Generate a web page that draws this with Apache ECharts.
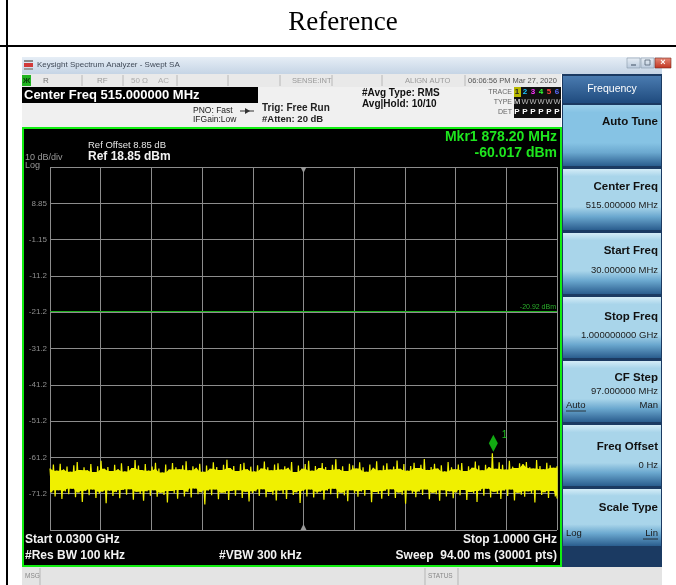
<!DOCTYPE html>
<html>
<head>
<meta charset="utf-8">
<script src="https://cdn.jsdelivr.net/npm/echarts@6/dist/echarts.min.js"></script>
<style>
html,body{margin:0;padding:0;background:#fff;}
#chart{width:676px;height:585px;}
</style>
</head>
<body>
<div id="chart"></div>
<script>
// ---------- data ----------
const startFreqMHz = 30;
const stopFreqMHz = 1000;
const refLevel = 18.85;
const dbPerDiv = 10;
const yTickLabels = ["8.85", "-1.15", "-11.2", "-21.2", "-31.2", "-41.2", "-51.2", "-61.2", "-71.2"];
const displayLine = -20.92;
const marker = [878.2, -60.017];
// upper envelope of the noise trace (dBm), read left to right
const noiseHigh = [
-64.2,-63.1,-64.8,-62.9,-64.5,-63.7,-65.1,-63.3,-62.4,-64.6,
-63.9,-64.7,-63.0,-65.2,-63.6,-62.1,-64.3,-63.8,-64.9,-63.2,
-64.4,-62.8,-65.0,-63.5,-64.1,-61.9,-63.4,-64.6,-63.0,-64.8,
-63.7,-62.6,-64.2,-65.3,-63.1,-64.5,-62.7,-63.9,-64.4,-63.3,
-62.2,-64.7,-63.6,-64.0,-62.9,-65.1,-63.4,-64.3,-62.5,-63.8,
-64.6,-63.2,-61.8,-64.1,-63.5,-64.9,-63.0,-62.6,-64.4,-63.7,
-65.0,-63.3,-64.2,-62.3,-63.9,-64.7,-63.1,-62.8,-64.5,-63.6,
-64.0,-62.4,-65.2,-63.4,-64.3,-63.0,-62.1,-64.8,-63.5,-64.1,
-62.7,-63.8,-64.6,-63.2,-61.7,-64.4,-63.6,-64.9,-62.9,-63.3,
-64.2,-62.5,-63.9,-65.1,-63.1,-64.0,-62.2,-64.7,-63.4,-62.8,
-64.5,-63.7,-62.0,-64.3,-63.0,-64.8,-63.5,-62.6,-64.1,-63.2,
-61.6,-64.6,-63.8,-62.9,-64.2,-63.3,-65.0,-62.4,-63.9,-64.4,
-63.1,-62.7,-64.9,-63.6,-64.0,-62.3,-63.4,-64.7,-63.2,-63.8,
-60.0,-64.3,-62.5,-63.2,-64.5,-62.1,-63.7,-64.1,-62.8,-63.0,
-62.4,-63.9,-64.2,-61.9,-63.5,-64.4,-62.6,-63.3,-64.0,-63.6
];
// lower envelope of the noise trace (dBm), read left to right
const noiseLow = [
-70.8,-71.9,-70.2,-72.6,-70.5,-71.3,-69.8,-72.1,-70.9,-73.4,
-70.4,-71.6,-70.0,-72.3,-71.1,-70.6,-73.8,-70.3,-71.8,-70.7,
-72.4,-70.1,-71.4,-69.9,-72.8,-70.6,-71.2,-73.1,-70.5,-71.7,
-70.2,-72.0,-70.9,-71.5,-73.6,-70.4,-71.0,-72.5,-70.1,-71.9,
-70.7,-72.2,-69.7,-71.3,-70.8,-74.1,-70.3,-71.6,-70.0,-72.7,
-70.9,-71.1,-72.9,-70.4,-71.7,-70.2,-72.3,-70.6,-73.3,-71.0,
-70.5,-71.8,-69.9,-72.1,-70.7,-71.4,-73.0,-70.3,-71.2,-72.6,
-70.1,-71.5,-70.8,-73.7,-70.4,-71.9,-70.0,-72.2,-71.1,-70.6,
-72.8,-70.3,-71.3,-69.8,-72.4,-70.9,-71.6,-73.2,-70.2,-71.0,
-72.0,-70.5,-71.7,-70.1,-73.5,-70.7,-71.2,-72.5,-70.4,-71.8,
-69.9,-72.3,-70.8,-71.4,-73.9,-70.3,-71.1,-72.1,-70.6,-71.5,
-70.0,-72.7,-70.9,-71.3,-73.1,-70.2,-71.9,-70.5,-72.4,-70.8,
-71.6,-70.1,-72.9,-70.7,-71.0,-73.4,-70.4,-71.7,-69.8,-72.2,
-70.6,-71.2,-72.6,-70.3,-71.8,-70.0,-73.0,-70.9,-71.4,-72.0,
-70.5,-71.1,-73.6,-70.2,-71.5,-70.8,-72.3,-70.4,-71.9,-72.5
];

// ---------- build trace table from the envelopes ----------
const n = noiseHigh.length;
const step = (stopFreqMHz - startFreqMHz) / (n - 1);
const freqs = noiseHigh.map(function (_, i) { return startFreqMHz + i * step; });
const trace = [];
for (let i = 0; i < n; i++) {
  trace.push([freqs[i], noiseHigh[i]]);
  trace.push([Math.min(stopFreqMHz, freqs[i] + step / 2), noiseLow[i]]);
}
// dense core of the trace: between the inner neighbours of each envelope
const coreTop = noiseHigh.map(function (v, i) {
  return Math.min(v, noiseHigh[Math.max(0, i - 1)], noiseHigh[Math.min(n - 1, i + 1)]);
});
const coreBottom = noiseLow.map(function (v, i) {
  return Math.max(v, noiseLow[Math.max(0, i - 1)], noiseLow[Math.min(n - 1, i + 1)]);
});

// ---------- chrome helpers ----------
const FONT = '"Liberation Sans", Arial, Helvetica, sans-serif';
const g = [];
function rect(x, y, w, h, fill, extra) {
  g.push(Object.assign({type: 'rect', silent: true, z: -5, shape: {x: x, y: y, width: w, height: h}, style: {fill: fill}}, extra || {}));
}
function seg(x1, y1, x2, y2, stroke, lw, z) {
  g.push({type: 'line', silent: true, z: z == null ? -4 : z, shape: {x1: x1, y1: y1, x2: x2, y2: y2}, style: {stroke: stroke, lineWidth: lw || 1}});
}
function txt(x, y, t, o) {
  o = o || {};
  const al = o.a || 'left';
  g.push({type: 'text', silent: true, z: o.z == null ? 50 : o.z, x: x, y: y,
    style: {text: t, fill: o.c || '#000', font: (o.b ? 'bold ' : '') + (o.s || 10) + 'px ' + (o.f || FONT),
      align: al, textAlign: al, verticalAlign: 'middle', textVerticalAlign: 'middle'}});
}
function grad(stops) {
  return {type: 'linear', x: 0, y: 0, x2: 0, y2: 1, colorStops: stops.map(function (s) { return {offset: s[0], color: s[1]}; })};
}

// document table frame + caption
seg(0, 46, 676, 46, '#000', 2, 10);
seg(7, 0, 7, 585, '#000', 2, 10);
txt(343, 23, 'Reference', {s: 27, f: '"Liberation Serif", "Times New Roman", serif', a: 'center'});

// window title bar
rect(22, 57, 640, 17, grad([[0, '#e6eef6'], [1, '#c5d4e5']]));
rect(24, 60, 9, 2, '#8a8a8a', {z: -3});
rect(24, 63, 9, 4, '#d23a3a', {z: -3});
rect(24, 68, 9, 2, '#9a9a9a', {z: -3});
txt(37, 65, 'Keysight Spectrum Analyzer - Swept SA', {s: 8, c: '#404a58'});
rect(627, 58, 13, 10, '#dde6f0', {style: {fill: grad([[0, '#e8eef5'], [1, '#b9c9dc']]), stroke: '#8899aa', lineWidth: 0.6}});
rect(641, 58, 13, 10, '#dde6f0', {style: {fill: grad([[0, '#e8eef5'], [1, '#b9c9dc']]), stroke: '#8899aa', lineWidth: 0.6}});
rect(655, 58, 16, 10, '#c8402c', {style: {fill: grad([[0, '#e58a78'], [1, '#c0321f']]), stroke: '#7a2a20', lineWidth: 0.6}});
seg(631, 65, 636, 65, '#556677', 1.2, -3);
rect(645, 60, 5, 5, 'none', {z: -3, style: {fill: 'none', stroke: '#556677', lineWidth: 0.8}});
txt(663, 63, '×', {s: 9, b: true, c: '#fff', a: 'center'});

// status row
rect(22, 74, 539, 13, '#e9e9e9');
[82, 123, 177, 228, 280, 332, 382, 465].forEach(function (x) { seg(x, 75, x, 86, '#b8b8b8', 1, -3); });
rect(22, 75, 9, 11, '#22b422', {z: -3});
txt(26.5, 81, 'Ж', {s: 8, b: true, c: '#0a3a0a', a: 'center'});
txt(43, 81, 'R', {s: 8, c: '#777'});
txt(97, 81, 'RF', {s: 8, c: '#999'});
txt(131, 81, '50 Ω', {s: 8, c: '#aaa'});
txt(158, 81, 'AC', {s: 8, c: '#aaa'});
txt(292, 81, 'SENSE:INT', {s: 7.5, c: '#999'});
txt(405, 81, 'ALIGN AUTO', {s: 7.5, c: '#999'});
txt(468, 81, '06:06:56 PM Mar 27, 2020', {s: 7.5, c: '#555'});

// info area
rect(22, 87, 539, 40, '#f0f0f0');
rect(22, 87, 236, 16, '#000', {z: -3});
txt(24, 95.5, 'Center Freq 515.000000 MHz', {s: 13, b: true, c: '#fff'});
txt(193, 111, 'PNO: Fast', {s: 8.5, c: '#222'});
seg(240, 111, 254, 111, '#333', 1, 40);
g.push({type: 'polygon', silent: true, z: 40, shape: {points: [[245, 108], [250, 111], [245, 114]]}, style: {fill: '#333'}});
txt(193, 120, 'IFGain:Low', {s: 8.5, c: '#222'});
txt(262, 108, 'Trig: Free Run', {s: 10, b: true, c: '#222'});
txt(262, 119, '#Atten: 20 dB', {s: 9.5, b: true, c: '#222'});
txt(362, 93, '#Avg Type: RMS', {s: 10, b: true, c: '#111'});
txt(362, 104, 'Avg|Hold: 10/10', {s: 10, b: true, c: '#111'});
txt(512, 92, 'TRACE', {s: 7, c: '#666', a: 'right'});
txt(512, 102, 'TYPE', {s: 7, c: '#666', a: 'right'});
txt(512, 112, 'DET', {s: 7, c: '#666', a: 'right'});
rect(514, 87, 47, 31, '#101010', {z: -3});
rect(514, 87, 7, 10, '#b8b800', {z: -2});
const traceNumCols = ['#222', '#19c8ff', '#ff33ff', '#33ff33', '#ff4040', '#5a6bff'];
[517, 525, 533, 541, 549, 557].forEach(function (x, i) {
  txt(x, 92, String(i + 1), {s: 8, b: true, c: traceNumCols[i], a: 'center'});
  txt(x, 112, 'P', {s: 8, b: true, c: '#fff', a: 'center'});
  txt(x, 102, i === 0 ? 'M' : 'W', {s: 7.5, c: i === 0 ? '#fff' : '#bbb', a: 'center'});
});

// softkey panel
rect(562, 74, 100, 493, '#1b3a62');
rect(563, 76, 98, 27, grad([[0, '#4a7bb0'], [1, '#1f4b7e']]));
txt(612, 89, 'Frequency', {s: 10.5, c: '#fff', a: 'center'});
// [title, value, title y, value y]
const keys = [
  ['Auto Tune', null, 122, 0], ['Center Freq', '515.000000 MHz', 187, 205], ['Start Freq', '30.000000 MHz', 251, 270],
  ['Stop Freq', '1.000000000 GHz', 317, 335], ['CF Step', '97.000000 MHz', 378, 391], ['Freq Offset', '0 Hz', 447, 465], ['Scale Type', null, 508, 0]
];
keys.forEach(function (k, i) {
  const y0 = 105 + i * 64;
  const top = i === 0 ? '#9ed2ec' : '#d4ecf7';
  const mid = i === 0 ? '#86c3e4' : '#a9d5ea';
  rect(563, y0, 98, i === 6 ? 57 : 61, grad([[0, top], [0.12, mid], [0.62, mid], [0.78, '#6ba8cf'], [1, '#2a5d8e']]));
  txt(658, k[2], k[0], {s: 11.5, b: true, c: '#111', a: 'right'});
  if (k[1]) txt(658, k[3], k[1], {s: 9.5, c: '#1a1a1a', a: 'right'});
});
// CF Step Auto/Man, Scale Type Log/Lin
txt(566, 405, 'Auto', {s: 9.5, c: '#1a1a1a'});
seg(566, 411, 586, 411, '#1a1a1a', 0.8, 50);
txt(658, 405, 'Man', {s: 9.5, c: '#1a1a1a', a: 'right'});
txt(566, 533, 'Log', {s: 9.5, c: '#1a1a1a'});
txt(658, 533, 'Lin', {s: 9.5, c: '#1a1a1a', a: 'right'});
seg(643, 539, 658, 539, '#1a1a1a', 0.8, 50);

// display area (black with green frame)
rect(23, 128, 538, 438, '#000', {z: -6, style: {fill: '#000', stroke: '#11ee11', lineWidth: 2}});
txt(557, 137, 'Mkr1 878.20 MHz', {s: 14, b: true, c: '#1ee61e', a: 'right'});
txt(557, 153, '-60.017 dBm', {s: 14, b: true, c: '#1ee61e', a: 'right'});
txt(88, 145, 'Ref Offset 8.85 dB', {s: 9.5, c: '#e6e6e6'});
txt(88, 157, 'Ref 18.85 dBm', {s: 12, b: true, c: '#f2f2f2'});
txt(25, 158, '10 dB/div', {s: 9, c: '#9a9a9a'});
txt(25, 166, 'Log', {s: 9, c: '#9a9a9a'});
txt(25, 540, 'Start 0.0300 GHz', {s: 12, b: true, c: '#f2f2f2'});
txt(557, 540, 'Stop 1.0000 GHz', {s: 12, b: true, c: '#f2f2f2', a: 'right'});
txt(25, 556, '#Res BW 100 kHz', {s: 12, b: true, c: '#f2f2f2'});
txt(219, 556, '#VBW 300 kHz', {s: 12, b: true, c: '#f2f2f2'});
txt(557, 556, 'Sweep  94.00 ms (30001 pts)', {s: 12, b: true, c: '#f2f2f2', a: 'right'});
// center-frequency ticks at top and bottom of the graticule
g.push({type: 'polygon', silent: true, z: 40, shape: {points: [[300.5, 167], [306.5, 167], [303.5, 173]]}, style: {fill: '#9a9a9a'}});
g.push({type: 'polygon', silent: true, z: 40, shape: {points: [[300.5, 530], [306.5, 530], [303.5, 524]]}, style: {fill: '#9a9a9a'}});

// message / status bar
rect(22, 567, 640, 18, '#e4e4e4');
seg(40, 568, 40, 585, '#b5b5b5', 1, -3);
seg(425, 568, 425, 585, '#b5b5b5', 1, -3);
seg(458, 568, 458, 585, '#b5b5b5', 1, -3);
txt(25, 576, 'MSG', {s: 6.5, c: '#888'});
txt(428, 576, 'STATUS', {s: 6.5, c: '#888'});

// ---------- chart ----------
const chart = echarts.init(document.getElementById('chart'), null, {renderer: 'canvas'});
const gridLine = {show: true, lineStyle: {color: '#8c8c8c', width: 1}};
const TRACE_COLOR = '#f0f000';
chart.setOption({
  backgroundColor: '#ffffff',
  animation: false,
  graphic: {elements: g},
  grid: {left: 50, top: 167, width: 507, height: 363, show: false},
  xAxis: [
    {type: 'value', min: 0, max: 10, interval: 1, axisLine: {show: false}, axisTick: {show: false}, axisLabel: {show: false}, splitLine: gridLine},
    {type: 'value', min: startFreqMHz, max: stopFreqMHz, show: false}
  ],
  yAxis: [
    {type: 'value', min: 0, max: 10, interval: 1, axisLine: {show: false}, axisTick: {show: false},
      axisLabel: {show: true, color: '#8f8f8f', fontSize: 8, margin: 3, fontFamily: FONT,
        formatter: function (v) { const k = 9 - v; return (k >= 0 && k < yTickLabels.length && v > 0) ? yTickLabels[k] : ''; }},
      splitLine: gridLine},
    {type: 'value', min: refLevel - 10 * dbPerDiv, max: refLevel, show: false}
  ],
  series: [
    {
      // solid core of the noise trace
      type: 'custom', xAxisIndex: 1, yAxisIndex: 1, silent: true, z: 3,
      data: [[startFreqMHz, coreTop[0]]],
      renderItem: function (params, api) {
        const pts = [];
        for (let i = 0; i < n; i++) pts.push(api.coord([freqs[i], coreTop[i]]));
        for (let i = n - 1; i >= 0; i--) pts.push(api.coord([freqs[i], coreBottom[i]]));
        return {type: 'polygon', shape: {points: pts}, style: {fill: TRACE_COLOR}};
      }
    },
    {
      type: 'line', xAxisIndex: 1, yAxisIndex: 1, data: trace, showSymbol: false, symbol: 'none',
      lineStyle: {color: TRACE_COLOR, width: 1.2, join: 'bevel'}, z: 4, silent: true,
      markLine: {
        symbol: 'none', silent: true, animation: false,
        data: [{yAxis: displayLine}],
        lineStyle: {color: '#1fae1f', width: 1.2, type: 'solid'},
        label: {show: true, position: 'insideEndTop', formatter: displayLine.toFixed(2) + ' dBm', color: '#2ab02a', fontSize: 7, fontFamily: FONT, distance: 1}
      }
    },
    {
      type: 'scatter', xAxisIndex: 1, yAxisIndex: 1, data: [marker], symbol: 'diamond',
      symbolSize: [9, 17], symbolOffset: [0, -10], itemStyle: {color: '#16d616'}, z: 5, silent: true,
      label: {show: true, formatter: '1', position: 'right', offset: [-1, -8], color: '#22e622', fontSize: 10, fontFamily: FONT}
    }
  ]
});
</script>
</body>
</html>
